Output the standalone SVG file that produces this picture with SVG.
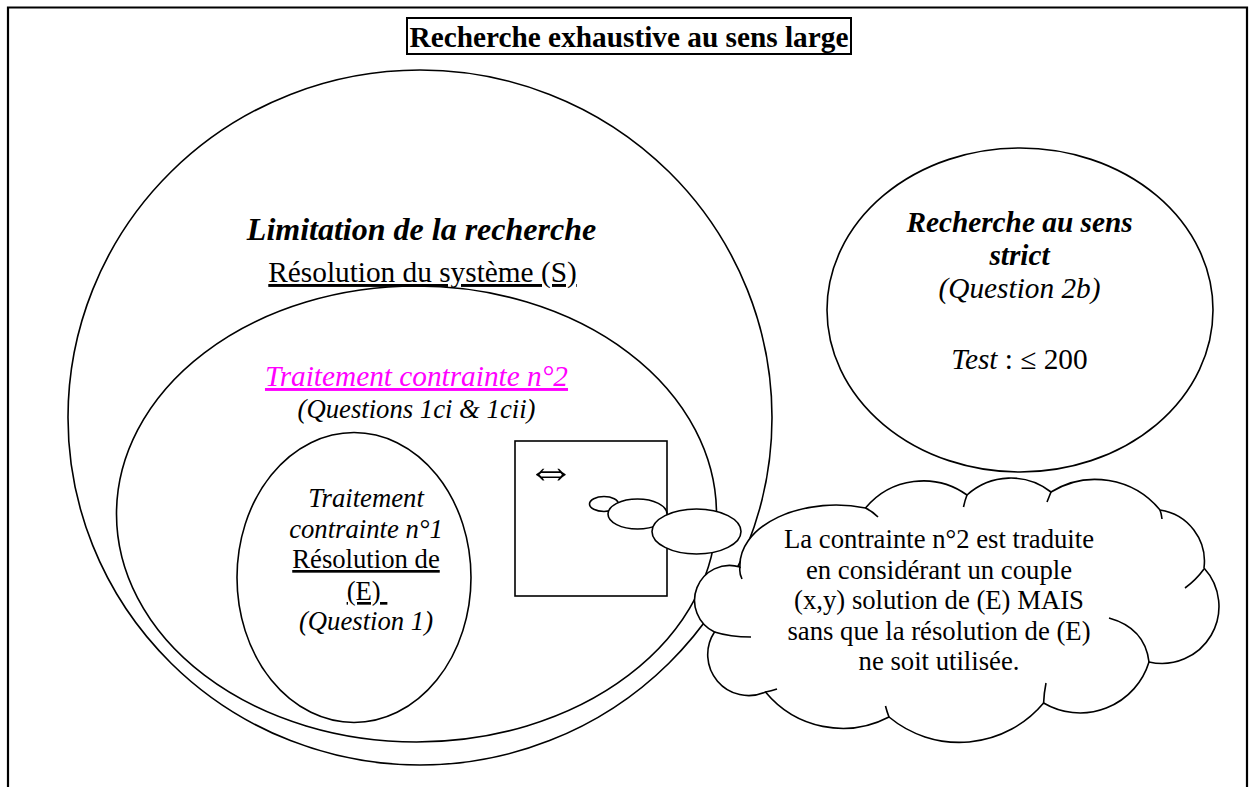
<svg xmlns="http://www.w3.org/2000/svg" width="1250" height="787" viewBox="0 0 1250 787">
<style>
text{font-family:"Liberation Serif","Times New Roman",serif;fill:#000;text-anchor:middle}
.shape{fill:none;stroke:#000;stroke-width:1.6}
.wshape{fill:#fff;stroke:#000;stroke-width:1.6}
.b{font-weight:bold}
.i{font-style:italic}
.u{text-decoration:underline}
.s29{font-size:29.3px}
.s27{font-size:26.7px}
</style>
<rect width="1250" height="787" fill="#fff"/>
<path d="M8,787 V7.5 H1247 V787" fill="none" stroke="#000" stroke-width="2.2"/>

<g id="title">
<rect x="407" y="18" width="444" height="36" fill="none" stroke="#000" stroke-width="2"/>
<text x="629" y="47" class="b s29">Recherche exhaustive au sens large</text>
</g>

<g id="limitation">
<ellipse cx="420" cy="417.5" rx="352" ry="347.5" class="shape"/>
<text x="421.5" y="240" class="b i" font-size="32">Limitation de la recherche</text>
<text x="422.5" y="282" class="s29 u">Résolution du système (S)</text>
</g>

<g id="contrainte2">
<ellipse cx="416.5" cy="514" rx="300" ry="228" class="shape"/>
<text x="416.5" y="386" class="i s29 u" style="fill:#ff00ff">Traitement contrainte n°2</text>
<text x="416.5" y="418" class="i s27">(Questions 1ci &amp; 1cii)</text>
</g>

<g id="contrainte1">
<ellipse cx="354" cy="577.5" rx="117" ry="145" class="shape"/>
<text x="366" y="507" class="i s27">Traitement</text>
<text x="366" y="538" class="i s27">contrainte n°1</text>
<text x="366" y="568" class="s27 u">Résolution de</text>
<text x="367" y="600" class="s27 u" xml:space="preserve">(E) </text>
<text x="366" y="630" class="i s27">(Question 1)</text>
</g>

<g id="strict">
<ellipse cx="1020" cy="310" rx="193" ry="162" class="shape"/>
<text x="1019.5" y="232" class="b i s29">Recherche au sens</text>
<text x="1019.5" y="265" class="b i s29">strict</text>
<text x="1019.5" y="298" class="i s29">(Question 2b)</text>
<text x="1019.5" y="369" class="s29"><tspan class="i">Test</tspan> : ≤ 200</text>
</g>

<g id="equivalence">
<rect x="515" y="441" width="152" height="155" class="shape"/>
<text x="551" y="486" font-size="50">⇔</text>
</g>

<g id="connectors">
<ellipse cx="604" cy="504" rx="14.5" ry="7.5" class="wshape"/>
<ellipse cx="637.5" cy="514" rx="29.5" ry="15" class="wshape"/>
<ellipse cx="696.5" cy="531.5" rx="44.5" ry="22.5" class="wshape"/>
</g>

<g id="cloud">
<path class="wshape" d="M740,567 A96,60 0 0,1 865.5,508 A75,75 0 0,1 967,495 A65,65 0 0,1 1051,492 A84,84 0 0,1 1160,510 A52,52 0 0,1 1204,568 A57,57 0 0,1 1149,662 A72,72 0 0,1 1043.6,703 A110,110 0 0,1 889,717 A100,100 0 0,1 765.5,692 A41,41 0 0,1 714.5,632 A35,35 0 0,1 740,567 Z"/>
<path class="shape" d="M740,567 Q739,573 742,579 M865.5,508 Q872,511 878,517 M967,495 Q965,500 963.5,507 M1051,492 Q1049,497 1047,502 M1160,510 Q1161.5,514 1162,519 M1204,569 Q1196,580 1185,588 M1149,662 Q1145,628 1109,618 M1043.6,703 Q1044,693 1046,683 M889,717 Q887,712 885.5,706 M765.5,692 Q771,691 777,689 M714.5,632 Q730,637 751,637"/>
<text x="939" y="548" class="s27">La contrainte n°2 est traduite</text>
<text x="939" y="579" class="s27">en considérant un couple</text>
<text x="939" y="609" class="s27">(x,y) solution de (E) MAIS</text>
<text x="939" y="640" class="s27">sans que la résolution de (E)</text>
<text x="939" y="670" class="s27">ne soit utilisée.</text>
</g>
</svg>
